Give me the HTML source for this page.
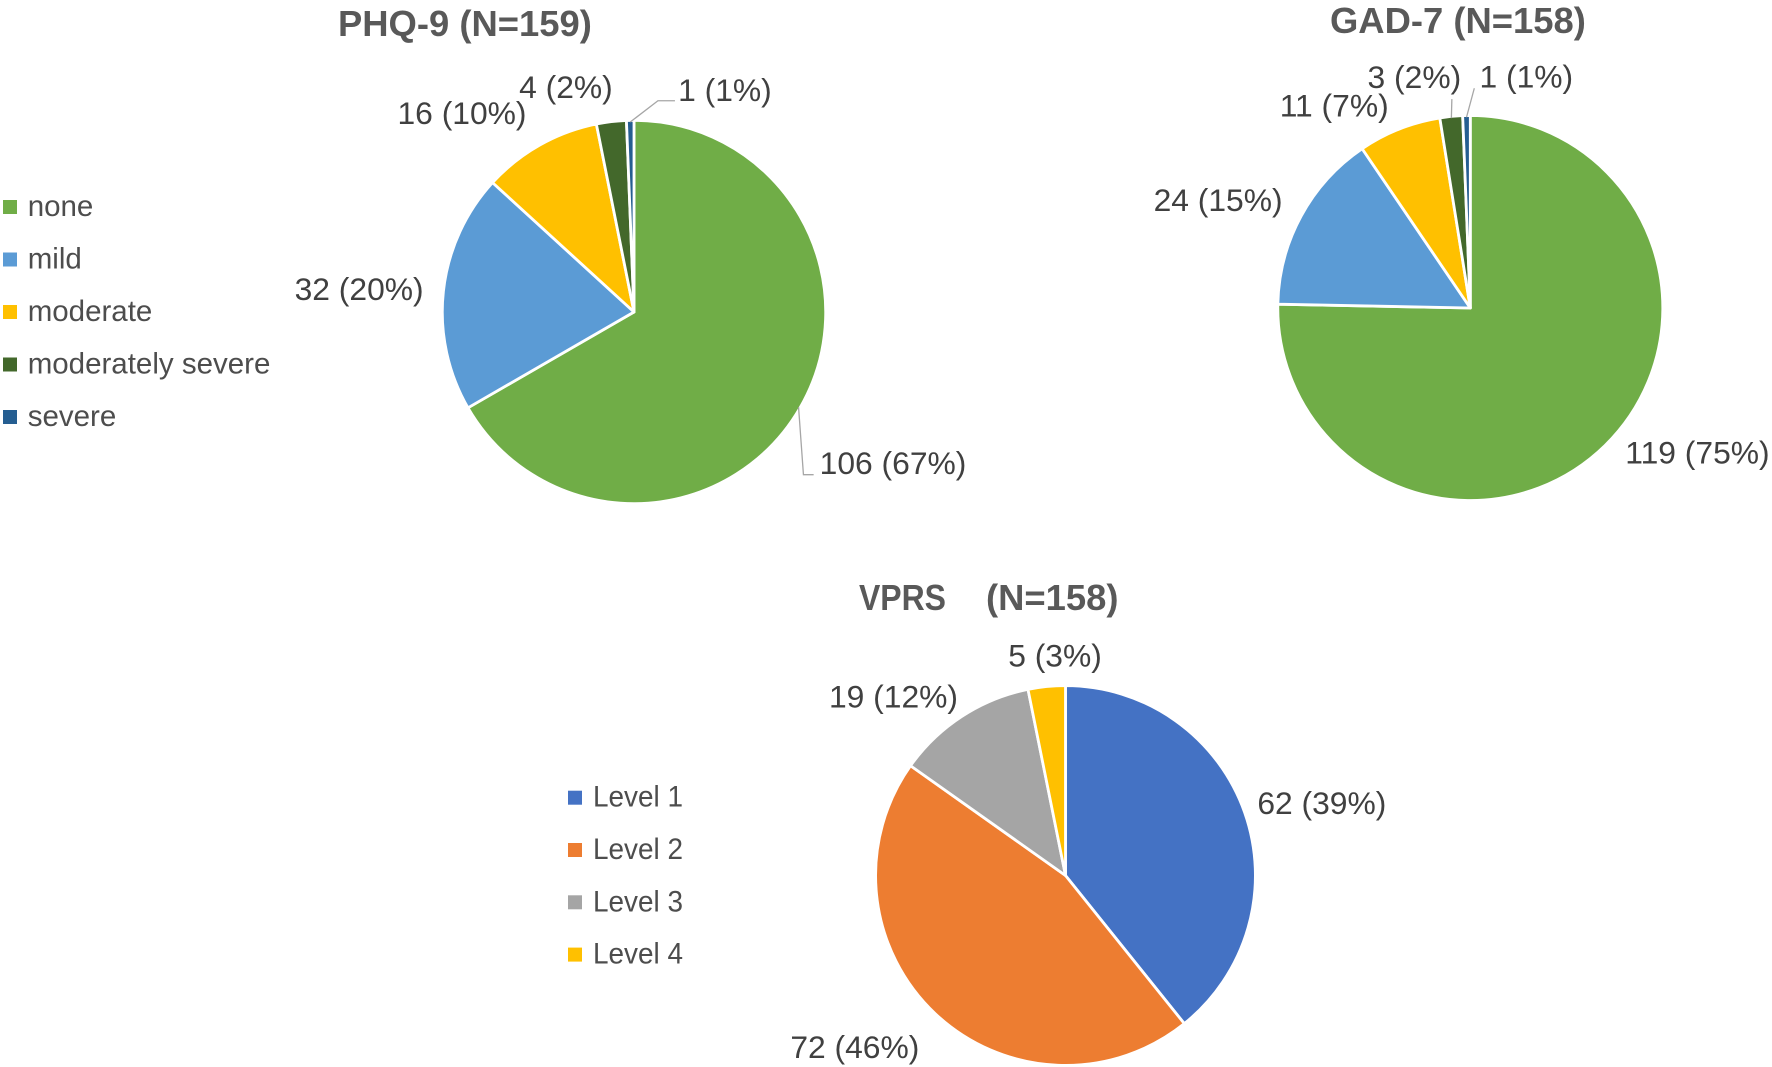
<!DOCTYPE html>
<html lang="en">
<head>
<meta charset="utf-8">
<title>PHQ-9, GAD-7 and VPRS distribution pie charts</title>
<style>
html,body{margin:0;padding:0;background:#fff;}
body{width:1772px;height:1067px;overflow:hidden;}
svg{display:block;font-family:"Liberation Sans",sans-serif;}
.title{font-size:36.4px;font-weight:bold;fill:#595959;}
.lab{font-size:31.8px;fill:#404040;text-anchor:middle;}
.leg{font-size:29.5px;fill:#4d4d4d;}
</style>
</head>
<body>
<svg id="fig" width="1772" height="1067" viewBox="0 0 1772 1067" xmlns="http://www.w3.org/2000/svg">
  <text class="title" x="338" y="36">PHQ-9 (N=159)</text>
  <text class="title" x="1330" y="33">GAD-7 (N=158)</text>
  <text class="title" x="859" y="610" textLength="87" lengthAdjust="spacingAndGlyphs">VPRS</text>
  <text class="title" x="986" y="610">(N=158)</text>
</svg>
<script>
// PHQ-9 data
const phqCategories = ["none", "mild", "moderate", "moderately severe", "severe"];
const phqCounts = [106, 32, 16, 4, 1];
const phqPercents = [67, 20, 10, 2, 1];
// GAD-7 data
const gadCounts = [119, 24, 11, 3, 1];
const gadPercents = [75, 15, 7, 2, 1];
// VPRS data
const vprsCategories = ["Level 1", "Level 2", "Level 3", "Level 4"];
const vprsCounts = [62, 72, 19, 5];
const vprsPercents = [39, 46, 12, 3];

// Styling and layout
const phqColors = ["#70AD47", "#5B9BD5", "#FFC000", "#43682B", "#255E91"];
const vprsColors = ["#4472C4", "#ED7D31", "#A5A5A5", "#FFC000"];
const phqNudges = [[94.5, 56], [-86, -2.5], [-78.6, -33.5], [-45.6, -36.3], [94.7, -32]];
const gadNudges = [[93.6, 8], [-84.5, -17], [-65.7, -25], [-37, -41], [59.8, -40.5]];
const vprsNudges = [[78.8, -10], [-81.6, 34.4], [-69.4, -21.2], [8.2, -32.5]];
const phqLeaders = {0: [[-89.6, 11.7], [-79.4, 11.7]], 4: [[-67, 10.7], [-50, 10.7]]};
const gadLeaders = {3: [[37.5, 22]], 4: [[-52, 11.5]]};
const strokeOverscan = 1.7;

const NS = "http://www.w3.org/2000/svg";
const svg = document.getElementById("fig");

function angleToPoint(cx, cy, r, deg) {
  const a = deg * Math.PI / 180;
  return [cx + r * Math.sin(a), cy - r * Math.cos(a)];
}

function drawPie(name, counts, percents, colors, cats, cx, cy, r, nudges, leaders) {
  const total = counts.reduce((s, v) => s + v, 0);
  const scale = v => v / total * 360;
  const drawR = r + strokeOverscan;
  let start = 0;
  counts.forEach((v, i) => {
    const sweep = scale(v);
    const end = start + sweep;
    const p0 = angleToPoint(cx, cy, drawR, start);
    const p1 = angleToPoint(cx, cy, drawR, end);
    const large = sweep > 180 ? 1 : 0;
    const slice = document.createElementNS(NS, "path");
    slice.setAttribute("d", "M" + cx + " " + cy + "L" + p0[0] + " " + p0[1] + "A" + drawR + " " + drawR + " 0 " + large + " 1 " + p1[0] + " " + p1[1] + "Z");
    slice.setAttribute("fill", colors[i]);
    slice.setAttribute("stroke", "#fff");
    slice.setAttribute("stroke-width", "2.8");
    slice.setAttribute("stroke-linejoin", "round");
    
    
    svg.appendChild(slice);

    const mid = start + sweep / 2;
    const rim = angleToPoint(cx, cy, r, mid);
    const lx = rim[0] + nudges[i][0];
    const ly = rim[1] + nudges[i][1];

    if (leaders[i]) {
      const pts = [rim].concat(leaders[i].map(o => [lx + o[0], ly + o[1]]));
      const line = document.createElementNS(NS, "polyline");
      line.setAttribute("points", pts.map(p => p[0] + "," + p[1]).join(" "));
      line.setAttribute("fill", "none");
      line.setAttribute("stroke", "#a6a6a6");
      line.setAttribute("stroke-width", "1.3");
      
      
      svg.appendChild(line);
    }

    const label = document.createElementNS(NS, "text");
    label.setAttribute("class", "lab");
    label.setAttribute("x", lx);
    label.setAttribute("y", ly + 11);
    label.textContent = v + " (" + percents[i] + "%)";
    
    
    svg.appendChild(label);
    start = end;
  });
}

function drawLegend(name, cats, colors, mx, tx, y0, step, fit) {
  cats.forEach((c, i) => {
    const y = y0 + i * step;
    const sw = document.createElementNS(NS, "rect");
    sw.setAttribute("x", mx);
    sw.setAttribute("y", y - 7);
    sw.setAttribute("width", 14);
    sw.setAttribute("height", 14);
    sw.setAttribute("fill", colors[i]);
    
    
    svg.appendChild(sw);
    const t = document.createElementNS(NS, "text");
    t.setAttribute("class", "leg");
    t.setAttribute("x", tx);
    t.setAttribute("y", y + 9);
    if (fit) {
      t.setAttribute("textLength", fit);
      t.setAttribute("lengthAdjust", "spacingAndGlyphs");
    }
    t.textContent = c;
    
    
    svg.appendChild(t);
  });
}

drawPie("phq", phqCounts, phqPercents, phqColors, phqCategories, 634, 312, 190, phqNudges, phqLeaders);
drawPie("gad", gadCounts, gadPercents, phqColors, phqCategories, 1470.3, 308, 190.8, gadNudges, gadLeaders);
drawPie("vprs", vprsCounts, vprsPercents, vprsColors, vprsCategories, 1065.5, 875.5, 188.2, vprsNudges, {});
drawLegend("phq", phqCategories, phqColors, 3, 27.7, 207, 52.5, 0);
drawLegend("vprs", vprsCategories, vprsColors, 568, 593, 797.7, 52.3, 90);
</script>
</body>
</html>
